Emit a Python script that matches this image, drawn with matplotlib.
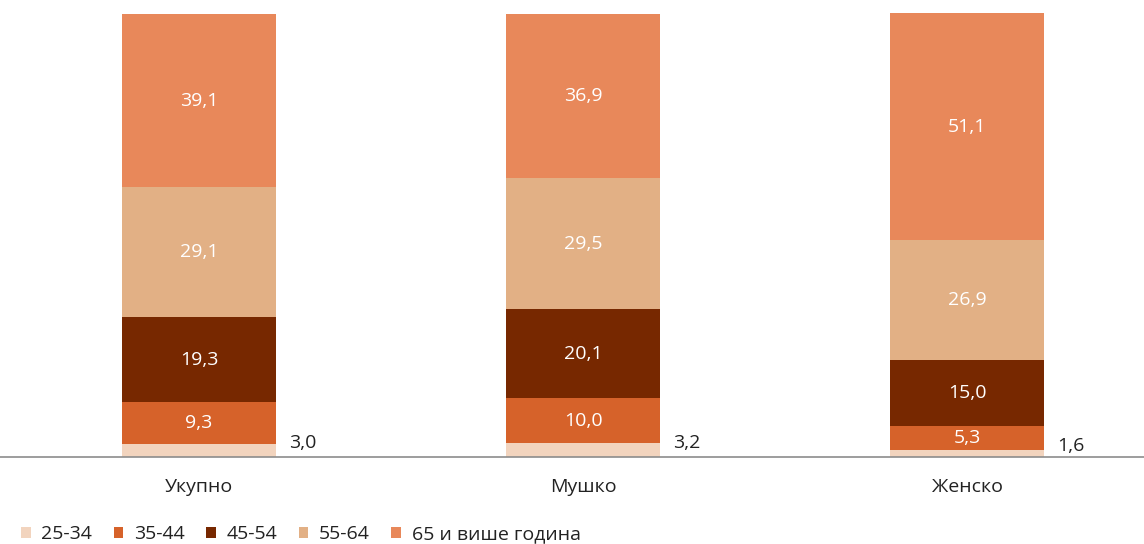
import numpy as np
import matplotlib.pyplot as plt

plt.rcParams['font.family'] = ['Open Sans', 'DejaVu Sans']

categories = ['Укупно', 'Мушко', 'Женско']
series = ['25-34', '35-44', '45-54', '55-64', '65 и више година']
v_25_34 = [3.0, 3.2, 1.6]
v_35_44 = [9.3, 10.0, 5.3]
v_45_54 = [19.3, 20.1, 15.0]
v_55_64 = [29.1, 29.5, 26.9]
v_65 = [39.1, 36.9, 51.1]
colors = ['#F2D4BE', '#D6622A', '#772800', '#E2B085', '#E8885A']

data = [v_25_34, v_35_44, v_45_54, v_55_64, v_65]
fs = 14

fig = plt.figure(figsize=(11.44, 5.44), dpi=100)
ax = fig.add_axes([0, 87 / 544, 1, 444 / 544])

x = np.arange(len(categories))
width = 0.40
bottom = np.zeros(len(categories))
handles = []
for i, (name, vals) in enumerate(zip(series, data)):
    vals = np.array(vals)
    b = ax.bar(x, vals, width, bottom=bottom, color=colors[i], label=name,
               edgecolor='none')
    handles.append(b)
    for j, v in enumerate(vals):
        txt = f'{v:.1f}'.replace('.', ',')
        if i == 0:
            ax.text(x[j] + width / 2 + 0.035, bottom[j] + v / 2 + 1.6, txt,
                    ha='left', va='center', fontsize=fs, color='#222222')
        else:
            ax.text(x[j], bottom[j] + v / 2, txt, ha='center', va='center',
                    fontsize=fs, color='white')
    bottom += vals

ax.set_xlim(-199 / 384, 2 + 177 / 384)
ax.set_ylim(0, 100)
for s in ['top', 'right', 'left']:
    ax.spines[s].set_visible(False)
ax.spines['bottom'].set_color('#8c8c8c')
ax.spines['bottom'].set_linewidth(1.2)
ax.set_yticks([])
ax.set_xticks(x)
ax.set_xticklabels(categories, fontsize=fs, color='#222222')
ax.tick_params(axis='x', length=0, pad=15)

fig.legend(handles=handles, labels=series, loc='lower left',
           bbox_to_anchor=(0.003, -0.031), ncol=5, frameon=False,
           fontsize=fs, handlelength=0.5, handleheight=0.5,
           handletextpad=0.55, columnspacing=1.1, labelcolor='#222222')

fig.savefig('out.png', dpi=100)
